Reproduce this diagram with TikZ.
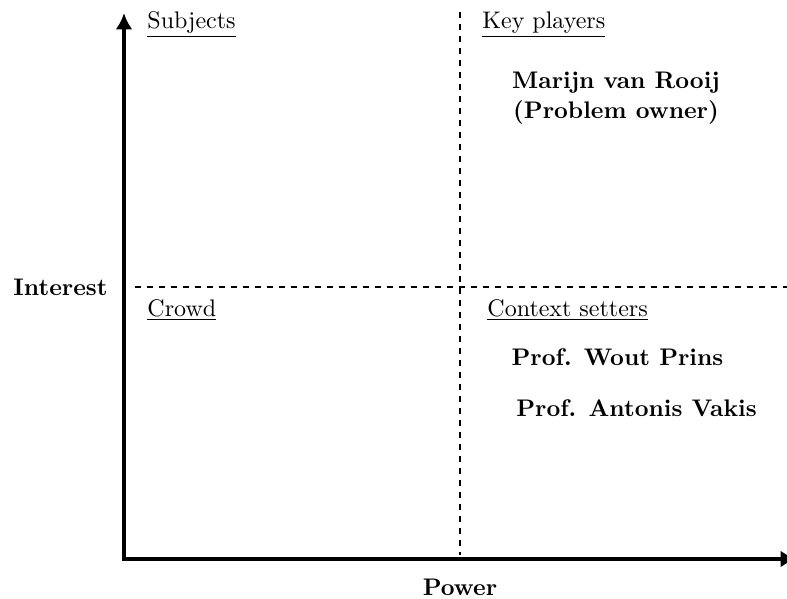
\documentclass[tikz,border=0pt]{standalone}
\usetikzlibrary{arrows.meta}
\begin{document}
\begin{tikzpicture}[x=0.4167pt,y=-0.4167pt,
  axis/.style={line width=1.4pt, line join=miter},
  quad/.style={line width=1.05pt, dash pattern=on 2.5pt off 2.5pt},
  head/.style={anchor=base west, inner sep=0pt},
  who/.style={anchor=base, inner sep=0pt, font=\bfseries}]
\useasboundingbox (0,0) rectangle (787,598);
% coordinates
\coordinate (origin) at (124,559);
\coordinate (ytip) at (124,13);
\coordinate (xtip) at (797,559);
\coordinate (dtop) at (460,12);
\coordinate (dbot) at (460,555);
\coordinate (hleft) at (135,287);
\coordinate (hright) at (790,287);
% dashed quadrant lines
\draw[quad] (dtop) -- (dbot);
\draw[quad] (hleft) -- (hright);
% axes
\draw[axis, {Latex[length=6.8pt,width=7pt]}-{Latex[length=6.8pt,width=7pt]}] (ytip) -- (origin) -- (xtip);
% axis labels
\node[anchor=base west, inner sep=0pt, font=\bfseries] (interest) at (13,295) {Interest};
\node[anchor=base, inner sep=0pt, font=\bfseries] (power) at (460,595) {Power};
% quadrant headings
\node[head] (subjects) at (147,28) {\underline{Subjects}};
\node[head] (key) at (482,28) {\underline{Key players}};
\node[head] (crowd) at (147,316) {\underline{Crowd}};
\node[head] (context) at (487,316) {\underline{Context setters}};
% stakeholders
\node[who] (marijn) at (616,88) {Marijn van Rooij};
\node[who] (owner) at (616,118) {(Problem owner)};
\node[who] (prins) at (617.5,365) {Prof. Wout Prins};
\node[who] (vakis) at (636.5,416) {Prof. Antonis Vakis};
\end{tikzpicture}
\end{document}
